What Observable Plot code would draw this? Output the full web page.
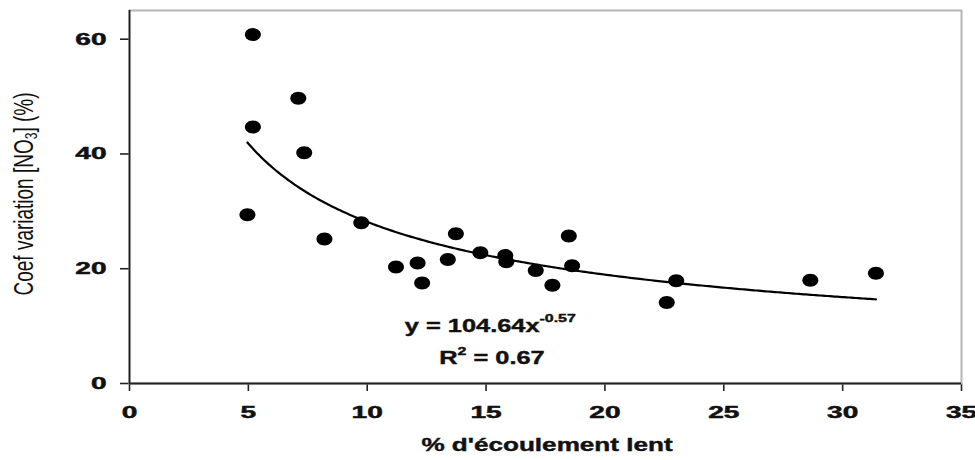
<!DOCTYPE html>
<html><head><meta charset="utf-8">
<script src="https://cdn.jsdelivr.net/npm/d3@7"></script>
<script src="https://cdn.jsdelivr.net/npm/@observablehq/plot@0.6"></script>
<style>
body{margin:0;background:#fff;}
#chart{width:975px;height:460px;}
</style></head><body><div id="chart"></div>
<script>
// % d'écoulement lent (x) and Coef variation [NO3] (%) (y)
const slowFlowPct = [5.19, 5.19, 7.10, 7.35, 4.96, 8.20, 9.75, 11.21, 12.12, 12.31, 13.39, 13.73, 14.76, 15.81, 15.85, 17.09, 17.79, 18.48, 18.62, 22.6, 23.0, 28.64, 31.4];
const cvNO3 = [60.8, 44.7, 49.7, 40.2, 29.4, 25.2, 28.0, 20.3, 21.0, 17.5, 21.6, 26.1, 22.8, 22.3, 21.2, 19.7, 17.1, 25.7, 20.5, 14.1, 17.9, 18.0, 19.2];
// Power fit printed on the chart: y = 104.64 x^-0.57, R² = 0.67
const fitA = 104.64;
const fitB = -0.57;
const fitR2 = "0.67";
const xTicks = [0, 5, 10, 15, 20, 25, 30, 35];
const yTicks = [0, 20, 40, 60];
const xTitle = "% d'écoulement lent";

const data = slowFlowPct.map((x, i) => ({x, y: cvNO3[i]}));
const xMin = d3.min(slowFlowPct), xMax = d3.max(slowFlowPct);
const fitXs = d3.range(xMin, xMax, 0.1).concat([xMax]);
const fitLine = fitXs.map(x => ({x, y: fitA * Math.pow(x, fitB)}));

const ellipse = {
  draw(ctx) {
    const rx = 8, ry = 6.5, k = 0.5523;
    ctx.moveTo(rx, 0);
    ctx.bezierCurveTo(rx, k * ry, k * rx, ry, 0, ry);
    ctx.bezierCurveTo(-k * rx, ry, -rx, k * ry, -rx, 0);
    ctx.bezierCurveTo(-rx, -k * ry, -k * rx, -ry, 0, -ry);
    ctx.bezierCurveTo(k * rx, -ry, rx, -k * ry, rx, 0);
    ctx.closePath();
  }
};

const FONT = "'Liberation Sans', Arial, sans-serif";
const plot = Plot.plot({
  width: 975, height: 460,
  marginLeft: 129, marginRight: 14, marginTop: 10, marginBottom: 77,
  style: {fontFamily: FONT, fontSize: "17px", fontWeight: "bold", color: "#111", background: "#fff"},
  x: {domain: [0, 35], ticks: xTicks, tickSize: 8, tickPadding: 14, label: null},
  y: {domain: [0, 65], ticks: yTicks, tickSize: 9, tickPadding: 14, label: null},
  marks: [
    Plot.frame({stroke: "#b5b5b5", strokeWidth: 2}),
    Plot.ruleX([0], {stroke: "#222", strokeWidth: 1.8}),
    Plot.ruleY([0], {stroke: "#222", strokeWidth: 1.8}),
    Plot.line(fitLine, {x: "x", y: "y", stroke: "#000", strokeWidth: 2.2}),
    Plot.dot(data, {x: "x", y: "y", fill: "#000", stroke: "none", symbol: ellipse, r: 7})
  ]
});
document.getElementById("chart").append(plot);

const svg = d3.select(plot);
const SX = 1.45;
const TICK_SX = 1.65;
// stretch axis tick labels horizontally like the reference
svg.selectAll("text").each(function() {
  const len = this.getComputedTextLength();
  this.setAttribute("textLength", (len * TICK_SX).toFixed(1));
  this.setAttribute("lengthAdjust", "spacingAndGlyphs");
  this.setAttribute("stroke", "#111");
  this.setAttribute("stroke-width", "0.5");
});
svg.selectAll('g[aria-label*="axis"] line, g[aria-label*="tick"] line, g[aria-label*="tick"] path')
  .attr("stroke", "#222").attr("stroke-width", 1.6);

const sx = plot.scale("x"), sy = plot.scale("y");
const midX = (sx.range[0] + sx.range[1]) / 2;
const midY = (sy.range[0] + sy.range[1]) / 2;

// x title
svg.append("g")
  .attr("transform", `translate(${midX + 2},450.5) scale(${SX},1)`)
  .append("text")
  .attr("text-anchor", "middle").attr("font-family", FONT).attr("font-size", 18).attr("font-weight", "bold")
  .attr("fill", "#111").attr("stroke", "#111").attr("stroke-width", 0.4)
  .text(xTitle);

// y title (rotated, condensed look)
const yt = svg.append("g")
  .attr("transform", `translate(33,${midY - 2.5}) rotate(-90) scale(1,${SX})`)
  .append("text")
  .attr("text-anchor", "middle").attr("font-family", FONT).attr("font-size", 19).attr("font-weight", "normal").attr("fill", "#111");
yt.append("tspan").text("Coef variation [NO");
yt.append("tspan").attr("font-size", 12).attr("dy", 3).text("3");
yt.append("tspan").attr("dy", -3).text("] (%)");

// equation
const eq = svg.append("g")
  .attr("transform", `translate(${sx.apply(15.2)},${sy.apply(8.9)}) scale(${SX},1)`)
  .append("text")
  .attr("text-anchor", "middle").attr("font-family", FONT).attr("font-size", 17.5).attr("font-weight", "bold")
  .attr("fill", "#111").attr("stroke", "#111").attr("stroke-width", 0.4);
eq.append("tspan").text(`y = ${fitA}x`);
eq.append("tspan").attr("font-size", 11).attr("dy", -9.5).text(`${fitB}`);

const r2 = svg.append("g")
  .attr("transform", `translate(${sx.apply(15.27)},${sy.apply(3.37)}) scale(${SX},1)`)
  .append("text")
  .attr("text-anchor", "middle").attr("font-family", FONT).attr("font-size", 17.5).attr("font-weight", "bold")
  .attr("fill", "#111").attr("stroke", "#111").attr("stroke-width", 0.4);
r2.append("tspan").text("R");
r2.append("tspan").attr("font-size", 11).attr("dy", -9).text("2");
r2.append("tspan").attr("dy", 9).text(` = ${fitR2}`);
</script>
</body></html>
